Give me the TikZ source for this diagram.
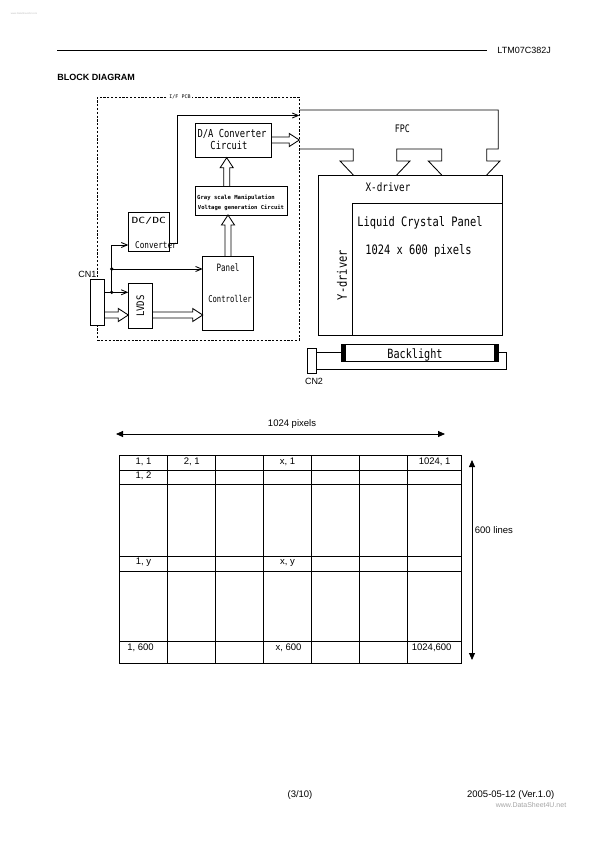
\documentclass[tikz,border=0pt]{standalone}
\usepackage{fontspec}
\setmainfont{Liberation Sans}
\newfontfamily\cadfont{DejaVu Sans Mono}
\usetikzlibrary{arrows.meta,calc}
\newcommand\tallt[2][1.25]{\scalebox{1}[#1]{#2}}
\newcommand\fatright[2]{\draw ($(#1)+(0,-3)$) -- ($(#2)+(-10,-3)$) -- ($(#2)+(-10,-6.5)$) -- (#2) -- ($(#2)+(-10,6.5)$) -- ($(#2)+(-10,3)$) -- ($(#1)+(0,3)$);}
\newcommand\fatup[2]{\draw ($(#1)+(-3,0)$) -- ($(#2)+(-3,10)$) -- ($(#2)+(-6.5,10)$) -- (#2) -- ($(#2)+(6.5,10)$) -- ($(#2)+(3,10)$) -- ($(#1)+(3,0)$);}
\begin{document}
\begin{tikzpicture}[x=1pt,y=-1pt,line width=0.85pt,
  box/.style={draw, inner sep=0pt, outer sep=0pt, anchor=north west},
  cad/.style={inner sep=0pt, font=\cadfont\fontsize{#1}{#1}\selectfont},
  cad/.default=9,
  sans/.style={inner sep=0pt, font=\fontsize{#1}{#1}\selectfont},
  sans/.default=9,
  barb/.style={-{Straight Barb[length=6pt,width=5pt]}},
  tri/.style={{Triangle[length=7pt,width=6pt]}-{Triangle[length=7pt,width=6pt]}},
  pcbline/.style={dash pattern=on 2.2pt off 1.6pt}]
\fill[white] (0,0) rectangle (596,842);
\useasboundingbox (0,0) rectangle (596,842);

% header
\node[sans=2.5, text=black!25] (wm1) at (24,14) {www.DataSheet4U.com};
\coordinate (hl1) at (57,50);
\coordinate (hl2) at (487,50);
\draw[line width=0.9pt] (hl1) -- (hl2);
\node[sans=9, anchor=west] (model) at (497,50) {LTM07C382J};
\node[inner sep=0pt, anchor=west, font=\bfseries\fontsize{9}{9}\selectfont] (title) at (57,77) {BLOCK DIAGRAM};

% I/F PCB
\node[box, pcbline, minimum width=202pt, minimum height=242.7pt] (pcb) at (97.3,97.3) {};
\node[cad=5, fill=white, inner xsep=1pt] (pcbT) at (180,97.3) {I/F PCB};

\node[box, minimum width=76.7pt, minimum height=34.4pt] (da) at (195,123.3) {};
\node[cad=8.8] (daT1) at (232,134) {\tallt{D/A Converter}};
\node[cad=8.8] (daT2) at (229,145.5) {\tallt{Circuit}};

\node[box, minimum width=92pt, minimum height=29pt] (gray) at (195.5,186) {};
\node[cad=5.6] (grT1) at (236,197.5) {\bfseries Gray scale Manipulation};
\node[cad=5.5] (grT2) at (241,208) {\bfseries Voltage generation Circuit};

\node[box, minimum width=41pt, minimum height=39pt] (dcdc) at (128.3,212.7) {};
\node[cad=8.5] (dcT1) at (148.8,220.5) {\scalebox{1.35}[1]{DC/DC}};
\node[cad=7.7] (dcT2) at (156,245) {\tallt[1.2]{Converter}};

\node[box, minimum width=50.6pt, minimum height=73.3pt] (panel) at (202.7,256.7) {};
\node[cad=7.5] (pT1) at (228,268) {\tallt[1.35]{Panel}};
\node[cad=7.2] (pT2) at (230,299.3) {\tallt[1.3]{Controller}};

\node[box, minimum width=24pt, minimum height=45pt] (lvds) at (128.3,283.3) {};
\node[cad=9, rotate=90] (lvT) at (140.3,306) {\tallt[1.15]{LVDS}};

\node[box, fill=white, minimum width=14.3pt, minimum height=45.7pt] (cn1) at (90,279.3) {};
\node[sans=9] (cn1T) at (87.5,274.5) {CN1};

% signal lines
\coordinate (j1) at (111.7,292.3);
\coordinate (j2) at (111.7,269);
\coordinate (k1) at (111.7,245);
\draw[barb] (cn1.east |- j1) -- (lvds.west |- j1);
\draw[barb] (j1) -- (k1) -- (dcdc.west |- k1);
\draw[barb] (j2) -- (panel.west |- j2);
\fill (j1) circle[radius=1.8pt];
\fill (j2) circle[radius=1.8pt];

\coordinate (t1) at (177,243);
\coordinate (t2) at (177,115.5);
\draw[barb] (dcdc.east |- t1) -- (t1) -- (t2) -- (pcb.east |- t2);

% fat arrows
\coordinate (yl) at (0,315);
\coordinate (f1a) at (cn1.east |- yl);
\coordinate (f1b) at (lvds.west |- yl);
\coordinate (f2a) at (lvds.east |- yl);
\coordinate (f2b) at (panel.west |- yl);
\coordinate (yd) at (0,140);
\coordinate (f3a) at (da.east |- yd);
\coordinate (f3b) at (pcb.east |- yd);
\coordinate (xg) at (226.7,0);
\coordinate (f4a) at (gray.north -| xg);
\coordinate (f4b) at (da.south -| xg);
\coordinate (xp) at (228,0);
\coordinate (f5a) at (panel.north -| xp);
\coordinate (f5b) at (gray.south -| xp);
\fatright{f1a}{f1b}
\fatright{f2a}{f2b}
\fatright{f3a}{f3b}
\fatup{f4a}{f4b}
\fatup{f5a}{f5b}

% FPC
\draw (299.3,110) -- (498.3,110) -- (498.3,149) -- (486.7,149) -- (486.7,161) -- (500,161) -- (486.7,175);
\draw (299.3,149) -- (353.3,149) -- (353.3,161) -- (340,161) -- (353.3,175);
\draw (396.7,175) -- (410,161) -- (396.7,161) -- (396.7,149) -- (441.7,149) -- (441.7,161) -- (428.3,161) -- (441.7,175);
\node[cad=8.3] (fpcT) at (402.3,128.3) {\tallt{FPC}};

% LCD module
\node[box, minimum width=184pt, minimum height=160pt] (xdrv) at (318,175) {};
\node[box, minimum width=149.7pt, minimum height=131.7pt] (lcp) at (352.3,203.3) {};
\node[cad=9.3] (xT) at (388,187.5) {\tallt{X-driver}};
\node[cad=10.4] (lcT1) at (420,223) {\tallt{Liquid Crystal Panel}};
\node[cad=10.4] (lcT2) at (418.5,251) {\tallt{1024 x 600 pixels}};
\node[cad=10.4, rotate=90] (yT) at (342,275) {\tallt{Y-driver}};

% backlight
\node[box, minimum width=156.6pt, minimum height=16.7pt] (bl) at (341.7,344.3) {};
\fill (bl.north west) rectangle ++(4,16.7);
\fill (bl.north east) rectangle ++(-4,16.7);
\node[cad=10.2] (blT) at (415,354.5) {\tallt{Backlight}};
\node[box, minimum width=8.7pt, minimum height=25pt] (cn2) at (307.3,348.3) {};
\coordinate (w1) at (506.7,369.3);
\coordinate (w2) at (506.7,352.7);
\draw (cn2.east |- w2) -- (bl.west |- w2);
\draw (cn2.east |- w1) -- (w1) -- (w2) -- (bl.east |- w2);
\node[sans=9] (cn2T) at (314,381.5) {CN2};

% pixel table
\node[sans=9.5] (pxT) at (292,424) {1024 pixels};
\coordinate (hL) at (116,434);
\coordinate (hR) at (445,434);
\draw[tri] (hL) -- (hR);
\foreach \x in {119.3,167.7,215.7,263.5,311.7,359.5,407.5,461.7}
  \draw (\x,455.7) -- (\x,663.5);
\foreach \y in {455.7,470,484.3,556,571.7,641.7,663.5}
  \draw (119.3,\y) -- (461.7,\y);
\node[sans=9.5, anchor=base] (c11) at (143.5,464) {1, 1};
\node[sans=9.5, anchor=base] (c21) at (191.7,464) {2, 1};
\node[sans=9.5, anchor=base] (cx1) at (287.6,464) {x, 1};
\node[sans=9.5, anchor=base] (cn1c) at (434.6,464) {1024, 1};
\node[sans=9.5, anchor=base] (c12) at (143.5,478) {1, 2};
\node[sans=9.5, anchor=base] (c1y) at (143.5,564) {1, y};
\node[sans=9.5, anchor=base] (cxy) at (287.6,564) {x, y};
\node[sans=9.5, anchor=base] (c16) at (140.5,650) {1, 600};
\node[sans=9.5, anchor=base] (cx6) at (288.5,650) {x, 600};
\node[sans=9.5, anchor=base] (cn6) at (431.7,650) {1024,600};
\coordinate (vT) at (472,460);
\coordinate (vB) at (472,660);
\draw[tri] (vT) -- (vB);
\node[sans=9.5, anchor=west] (lnT) at (474.5,530) {600 lines};

% footer
\node[sans=9.5] (pg) at (300,795) {(3/10)};
\node[sans=9.5, anchor=west] (date) at (466.7,795) {2005-05-12 (Ver.1.0)};
\node[sans=7, text=black!35] (wm2) at (531,805) {www.DataSheet4U.net};
\end{tikzpicture}
\end{document}
